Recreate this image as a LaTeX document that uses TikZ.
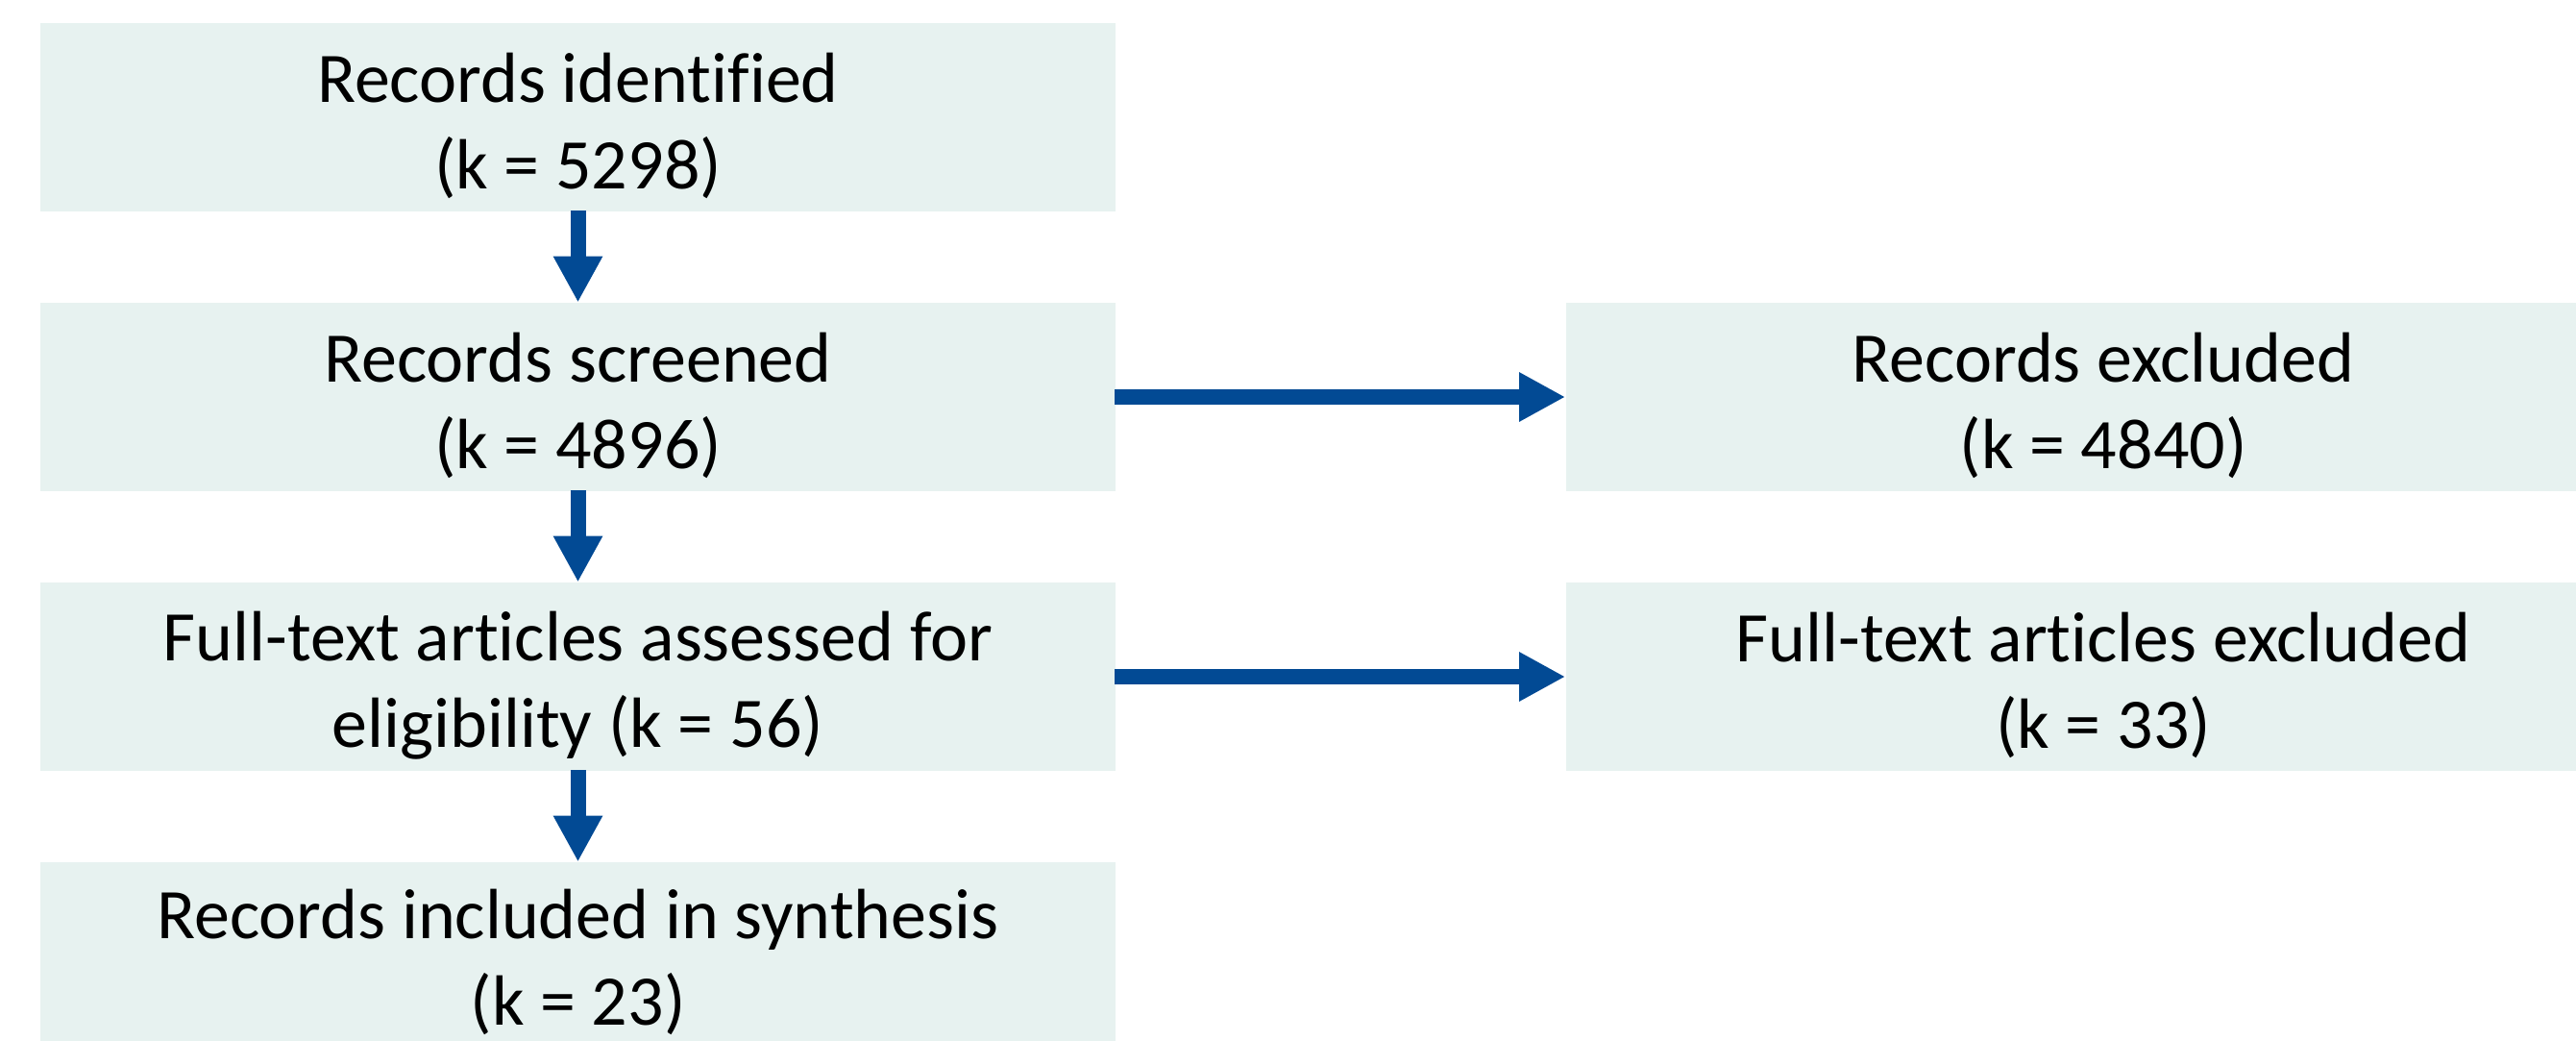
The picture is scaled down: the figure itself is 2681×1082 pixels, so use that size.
\documentclass[tikz,border=0pt]{standalone}
\usepackage{fontspec}
\setmainfont{Carlito}[Ligatures=NoCommon]
\usetikzlibrary{arrows.meta}
\definecolor{boxfill}{RGB}{231,242,240}
\definecolor{arrowblue}{RGB}{2,74,148}
\newcommand{\topstrut}{\rule{0pt}{35pt}}
\newcommand{\lowstrut}{\rule{0pt}{32pt}}
\tikzset{
  flowbox/.style={fill=boxfill, draw=none, minimum width=559.5pt, minimum height=98pt,
    inner sep=0pt, align=center, font=\fontsize{37}{45}\selectfont},
  flowarrow/.style={draw=arrowblue, line width=8pt,
    -{Triangle[length=24pt,width=24pt]}, shorten <=-0.5pt}
}
\begin{document}
\begin{tikzpicture}[x=0.5pt,y=-0.5pt]
\useasboundingbox (0,0) rectangle (2681,1082);
\clip (0,0) rectangle (2681,1082);
\node[flowbox] (ident) at (601.5,122) {\topstrut Records identified\\(k = 5298)};
\node[flowbox] (screen) at (601.5,413) {\topstrut Records screened\\(k = 4896)};
\node[flowbox] (full) at (601.5,704) {\topstrut Full-text articles assessed for\\eligibility (k = 56)};
\node[flowbox] (incl) at (601.5,995) {\lowstrut Records included in synthesis\\(k = 23)};
\node[flowbox] (excl) at (2189,413) {\topstrut Records excluded\\(k = 4840)};
\node[flowbox] (fexcl) at (2189,704) {\topstrut Full-text articles excluded\\(k = 33)};
\draw[flowarrow] (ident.south) -- (screen.north);
\draw[flowarrow] (screen.south) -- (full.north);
\draw[flowarrow] (full.south) -- (incl.north);
\draw[flowarrow] (screen.east) -- (excl.west);
\draw[flowarrow] (full.east) -- (fexcl.west);
\end{tikzpicture}
\end{document}
